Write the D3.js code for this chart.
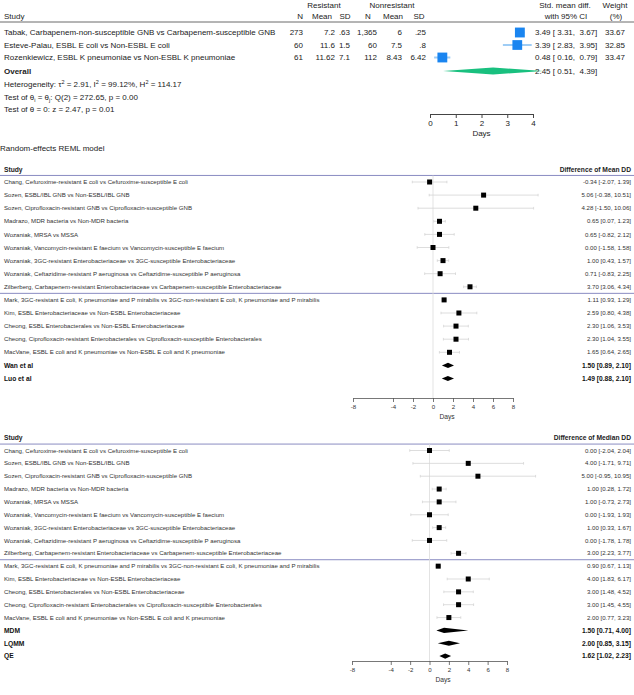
<!DOCTYPE html>
<html>
<head>
<meta charset="utf-8">
<script src="https://cdn.jsdelivr.net/npm/d3@7"></script>
<style>
  body { margin: 0; background: #fff; }
  svg text { font-family: "Liberation Sans", Arial, sans-serif; }
</style>
</head>
<body>
<div id="chart"></div>
<script>
// ---- top panel data (std. mean diff)
var topStudies = [
  "Tabak, Carbapenem-non-susceptible GNB vs Carbapenem-susceptible GNB",
  "Esteve-Palau, ESBL E coli vs Non-ESBL E coli",
  "Rozenkiewicz, ESBL K pneumoniae vs Non-ESBL K pneumoniae"
];
var resN = [273, 60, 61];
var resMean = [7.2, 11.6, 11.62];
var resSD = [0.63, 1.5, 7.1];
var nonN = [1365, 60, 112];
var nonMean = [6, 7.5, 8.43];
var nonSD = [0.25, 0.8, 6.42];
var smd = [3.49, 3.39, 0.48];
var smdLo = [3.31, 2.83, 0.16];
var smdHi = [3.67, 3.95, 0.79];
var weight = [33.67, 32.85, 33.47];
var overall = [2.45, 0.51, 4.39];
var topTicks = [0, 1, 2, 3, 4];

// ---- lower panels
var studies = [
  "Chang, Cefuroxime-resistant E coli vs Cefuroxime-susceptible E coli",
  "Sozen, ESBL/IBL GNB vs Non-ESBL/IBL GNB",
  "Sozen, Ciprofloxacin-resistant GNB vs Ciprofloxacin-susceptible GNB",
  "Madrazo, MDR bacteria vs Non-MDR bacteria",
  "Wozaniak, MRSA vs MSSA",
  "Wozaniak, Vancomycin-resistant E faecium vs Vancomycin-susceptible E faecium",
  "Wozaniak, 3GC-resistant Enterobacteriaceae vs 3GC-susceptible Enterobacteriaceae",
  "Wozaniak, Ceftazidime-resistant P aeruginosa vs Ceftazidime-susceptible P aeruginosa",
  "Zilberberg, Carbapenem-resistant Enterobacteriaceae vs Carbapenem-susceptible Enterobacteriaceae",
  "Mark, 3GC-resistant E coli, K pneumoniae and P mirabilis vs 3GC-non-resistant E coli, K pneumoniae and P mirabilis",
  "Kim, ESBL Enterobacteriaceae vs Non-ESBL Enterobacteriaceae",
  "Cheong, ESBL Enterobacterales vs Non-ESBL Enterobacteriaceae",
  "Cheong, Ciprofloxacin-resistant Enterobacterales vs Ciprofloxacin-susceptible Enterobacterales",
  "MacVane, ESBL E coli and K pneumoniae vs Non-ESBL E coli and K pneumoniae"
];
var meanDiff = [-0.34, 5.06, 4.28, 0.65, 0.65, 0.00, 1.00, 0.71, 3.70, 1.11, 2.59, 2.30, 2.30, 1.65];
var meanLo = [-2.07, -0.38, -1.50, 0.07, -0.82, -1.58, 0.43, -0.83, 3.06, 0.93, 0.80, 1.06, 1.04, 0.64];
var meanHi = [1.39, 10.51, 10.06, 1.23, 2.12, 1.58, 1.57, 2.25, 4.34, 1.29, 4.38, 3.53, 3.55, 2.65];
var meanPooledNames = ["Wan et al", "Luo et al"];
var meanPooled = [[1.50, 0.89, 2.10], [1.49, 0.88, 2.10]];

var medDiff = [0.00, 4.00, 5.00, 1.00, 1.00, 0.00, 1.00, 0.00, 3.00, 0.90, 4.00, 3.00, 3.00, 2.00];
var medLo = [-2.04, -1.71, -0.95, 0.28, -0.73, -1.93, 0.33, -1.78, 2.23, 0.67, 1.83, 1.48, 1.45, 0.77];
var medHi = [2.04, 9.71, 10.95, 1.72, 2.73, 1.93, 1.67, 1.78, 3.77, 1.13, 6.17, 4.52, 4.55, 3.23];
var medPooledNames = ["MDM", "LQMM", "QE"];
var medPooled = [[1.50, 0.71, 4.00], [2.00, 0.85, 3.15], [1.62, 1.02, 2.23]];

var lowTicks = [-8, -4, -2, 0, 2, 4, 6, 8];

var W = 634, H = 695;
var svg = d3.select("#chart").append("svg")
    .attr("width", W).attr("height", H);

// plain hyphen minus like the original
var loc = d3.formatLocale({decimal: ".", thousands: ",", grouping: [3], currency: ["", ""], minus: "-"});
var f2 = loc.format(".2f"), fc = loc.format(","), fi = loc.format("d");

function txt(g, x, y, s, o) {
    o = o || {};
    return g.append("text")
        .attr("x", x).attr("y", y).attr("dy", "0.35em")
        .attr("text-anchor", o.anchor || "start")
        .attr("font-size", o.size || 8)
        .attr("font-weight", o.bold ? "bold" : null)
        .attr("fill", o.fill || "#222")
        .attr("xml:space", "preserve")
        .text(s);
}
// stata style: drop leading zero
function sfmt(v) {
    var s = String(v);
    return s.indexOf("0.") === 0 ? s.slice(1) : s;
}
function ci(v, lo, hi, pad) {
    var p = function (n) { var s = f2(n); return pad ? (n < 0 ? s : " " + s) : s; };
    return f2(v) + " [" + p(lo) + ", " + p(hi) + "]";
}

// ================= TOP PANEL =================
var topG = svg.append("g");
var fsT = 8;
var xT = d3.scaleLinear().domain([0, 4]).range([430, 533]);
var yT = d3.scaleLinear().domain([0, 1]).range([32.5, 45]);

txt(topG, 324, 5, "Resistant", {anchor: "middle", size: fsT});
txt(topG, 392, 5, "Nonresistant", {anchor: "middle", size: fsT});
txt(topG, 565, 5, "Std. mean diff.", {anchor: "middle", size: fsT});
txt(topG, 615, 5, "Weight", {anchor: "middle", size: fsT});
txt(topG, 4, 16, "Study", {size: fsT});
txt(topG, 303, 16, "N", {anchor: "end", size: fsT});
[[322, "Mean"], [345, "SD"], [368, "N"], [393, "Mean"], [419, "SD"]].forEach(function (c) {
    txt(topG, c[0], 16, c[1], {anchor: "middle", size: fsT});
});
txt(topG, 566, 16, "with 95% CI", {anchor: "middle", size: fsT});
txt(topG, 616, 16, "(%)", {anchor: "middle", size: fsT});
topG.append("line").attr("x1", 0).attr("x2", W).attr("y1", 22).attr("y2", 22)
    .attr("stroke", "#444").attr("stroke-width", 0.8);

topStudies.forEach(function (s, i) {
    var y = yT(i);
    txt(topG, 4, y, s, {size: fsT});
    txt(topG, 303, y, fc(resN[i]), {anchor: "end", size: fsT});
    txt(topG, 335, y, sfmt(resMean[i]), {anchor: "end", size: fsT});
    txt(topG, 350, y, sfmt(resSD[i]), {anchor: "end", size: fsT});
    txt(topG, 377, y, fc(nonN[i]), {anchor: "end", size: fsT});
    txt(topG, 402, y, sfmt(nonMean[i]), {anchor: "end", size: fsT});
    txt(topG, 426, y, sfmt(nonSD[i]), {anchor: "end", size: fsT});
    txt(topG, 535, y, ci(smd[i], smdLo[i], smdHi[i], true), {size: fsT});
    txt(topG, 625, y, f2(weight[i]), {anchor: "end", size: fsT});
    topG.append("line")
        .attr("x1", xT(smdLo[i])).attr("x2", xT(smdHi[i]))
        .attr("y1", y).attr("y2", y)
        .attr("stroke", "#9fcdf5").attr("stroke-width", 2);
    var side = 1.7 * Math.sqrt(weight[i]);
    topG.append("rect")
        .attr("x", xT(smd[i]) - side / 2).attr("y", y - side / 2)
        .attr("width", side).attr("height", side)
        .attr("fill", "#1a85f0");
});

var yO = 71;
txt(topG, 4, yO, "Overall", {size: fsT, bold: true});
topG.append("path")
    .attr("d", "M" + xT(overall[1]) + "," + yO + "L" + xT(overall[0]) + "," + (yO - 3.5) +
        "L" + xT(overall[2]) + "," + yO + "L" + xT(overall[0]) + "," + (yO + 3.5) + "Z")
    .attr("fill", "#19c07f");
txt(topG, 535, yO, ci(overall[0], overall[1], overall[2], true), {size: fsT});

var het = txt(topG, 4, 84.5, "", {size: fsT});
het.append("tspan").text("Heterogeneity: τ");
het.append("tspan").attr("font-size", 5.5).attr("dy", -3).text("2");
het.append("tspan").attr("dy", 3).text(" = 2.91, I");
het.append("tspan").attr("font-size", 5.5).attr("dy", -3).text("2");
het.append("tspan").attr("dy", 3).text(" = 99.12%, H");
het.append("tspan").attr("font-size", 5.5).attr("dy", -3).text("2");
het.append("tspan").attr("dy", 3).text(" = 114.17");
var t1 = txt(topG, 4, 97, "", {size: fsT});
t1.append("tspan").text("Test of θ");
t1.append("tspan").attr("font-size", 5.5).attr("dy", 2).text("i");
t1.append("tspan").attr("dy", -2).text(" = θ");
t1.append("tspan").attr("font-size", 5.5).attr("dy", 2).text("j");
t1.append("tspan").attr("dy", -2).text(": Q(2) = 272.65, p = 0.00");
txt(topG, 4, 109.5, "Test of θ = 0: z = 2.47, p = 0.01", {size: fsT});

var axT = topG.append("g").attr("transform", "translate(0,114)")
    .call(d3.axisBottom(xT).tickValues(topTicks).tickFormat(fi)
        .tickSize(4).tickSizeOuter(0).tickPadding(2));
axT.selectAll("text").attr("font-size", fsT).attr("fill", "#222").attr("font-family", null);
axT.selectAll("line,path").attr("stroke", "#444");
txt(topG, xT(2), 133, "Days", {anchor: "middle", size: fsT});

txt(svg, 0, 148, "Random-effects REML model", {size: 8});

// ================= LOWER PANELS =================
function panel(cfg) {
    var g = svg.append("g");
    var fs = 6.1, fb = 6.7;
    var x = d3.scaleLinear().domain([-8, 8]).range(cfg.range);
    var y = d3.scaleLinear().domain([0, 1]).range([cfg.y0, cfg.y0 + cfg.step]);
    var n = cfg.names.length;

    txt(g, 4, cfg.y0 - cfg.step + 0.5, "Study", {size: fb, bold: true});
    txt(g, 631, cfg.y0 - cfg.step + 0.5, cfg.header, {anchor: "end", size: fb, bold: true});
    [y(-0.5), y(8.5)].forEach(function (ly) {
        g.append("line").attr("x1", 0).attr("x2", W).attr("y1", ly).attr("y2", ly)
            .attr("stroke", "#8a8cc2").attr("stroke-width", 1);
    });
    g.append("line").attr("x1", x(0)).attr("x2", x(0))
        .attr("y1", y(-0.5)).attr("y2", cfg.axisY)
        .attr("stroke", "#dcdcdc").attr("stroke-width", 0.8);

    cfg.names.forEach(function (s, i) {
        var yy = y(i);
        txt(g, 4, yy, s, {size: fs, fill: "#333"});
        txt(g, 631, yy, ci(cfg.est[i], cfg.lo[i], cfg.hi[i], false), {anchor: "end", size: fs, fill: "#333"});
        g.append("line").attr("x1", x(cfg.lo[i])).attr("x2", x(cfg.hi[i]))
            .attr("y1", yy).attr("y2", yy).attr("stroke", "#d4d4d4").attr("stroke-width", 0.8);
        [cfg.lo[i], cfg.hi[i]].forEach(function (v) {
            g.append("line").attr("x1", x(v)).attr("x2", x(v))
                .attr("y1", yy - 1.3).attr("y2", yy + 1.3)
                .attr("stroke", "#d4d4d4").attr("stroke-width", 0.8);
        });
        g.append("rect").attr("x", x(cfg.est[i]) - 2.5).attr("y", yy - 2.5)
            .attr("width", 5).attr("height", 5).attr("fill", "#000");
    });
    cfg.pooledNames.forEach(function (s, j) {
        var yy = y(n + j), p = cfg.pooled[j];
        txt(g, 4, yy, s, {size: fb, bold: true, fill: "#111"});
        txt(g, 631, yy, ci(p[0], p[1], p[2], false), {anchor: "end", size: fb, bold: true, fill: "#111"});
        g.append("path")
            .attr("d", "M" + x(p[1]) + "," + yy + "L" + x(p[0]) + "," + (yy - 2.6) +
                "L" + x(p[2]) + "," + yy + "L" + x(p[0]) + "," + (yy + 2.6) + "Z")
            .attr("fill", "#000");
    });

    var ax = g.append("g").attr("transform", "translate(0," + cfg.axisY + ")")
        .call(d3.axisBottom(x).tickValues(lowTicks).tickFormat(fi)
            .tickSize(4).tickSizeOuter(0).tickPadding(3));
    ax.selectAll("text").attr("font-size", fs).attr("fill", "#333").attr("font-family", null);
    ax.selectAll("line,path").attr("stroke", "#555").attr("stroke-width", 0.8);
    txt(g, x(1.4), cfg.axisY + 19, "Days", {anchor: "middle", size: fb, fill: "#333"});
}

panel({
    names: studies, est: meanDiff, lo: meanLo, hi: meanHi,
    pooledNames: meanPooledNames, pooled: meanPooled,
    header: "Difference of Mean DD",
    range: [353, 513], y0: 182, step: 13.1, axisY: 398
});
panel({
    names: studies, est: medDiff, lo: medLo, hi: medHi,
    pooledNames: medPooledNames, pooled: medPooled,
    header: "Difference of Median DD",
    range: [352, 507], y0: 450.5, step: 12.85, axisY: 661
});
</script>
</body>
</html>
